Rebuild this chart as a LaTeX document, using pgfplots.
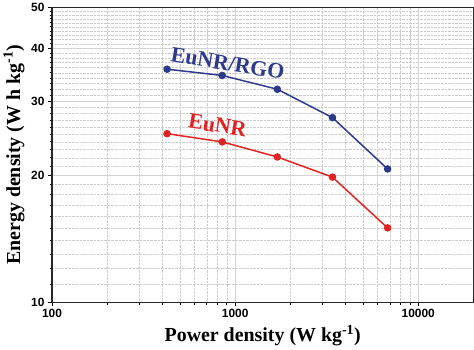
\documentclass[border=0pt]{standalone}
\usepackage{fontspec}
\setmainfont{Liberation Serif}
\newfontfamily\arialfont{Liberation Sans}
\usepackage{pgfplots}
\pgfplotsset{compat=1.18}
\definecolor{eublue}{RGB}{45,58,140}
\definecolor{eured}{RGB}{226,35,35}
\begin{document}
\begin{tikzpicture}
\begin{axis}[
  scale only axis, width=422bp, height=295bp,
  xmode=log, ymode=log,
  xmin=100, xmax=20000, ymin=10, ymax=50,
  xtick={100,1000,10000}, xticklabels={100,1000,10000},
  minor xtick={200,300,400,500,600,700,800,900,2000,3000,4000,5000,6000,7000,8000,9000},
  ytick={10,20,30,40,50}, yticklabels={10,20,30,40,50},
  minor ytick={11,12,13,14,15,16,17,18,19,21,22,23,24,25,26,27,28,29,31,32,33,34,35,36,37,38,39,41,42,43,44,45,46,47,48,49},
  grid=both,
  major grid style={gray!35, line width=0.8pt},
  minor grid style={gray!40, densely dotted, line width=0.5pt},
  tick align=outside, xtick pos=bottom, ytick pos=left,
  major tick length=4bp, minor tick length=2.5bp,
  tick style={black, line width=0.8pt},
  axis line style={black!85, line width=1.2pt},
  xlabel={Power density (W kg\textsuperscript{-1})},
  ylabel={Energy density (W h kg\textsuperscript{-1})},
  label style={font=\bfseries\fontsize{20}{24}\selectfont},
  ticklabel style={font=\arialfont\bfseries\fontsize{12}{14}\selectfont},
]
\addplot[eublue, line width=1.5pt, mark=*, mark size=3bp] coordinates {(425,35.7)(850,34.5)(1700,32.0)(3400,27.4)(6800,20.7)};
\addplot[eured, line width=1.5pt, mark=*, mark size=3bp] coordinates {(425,25.1)(850,24.0)(1700,22.1)(3400,19.8)(6800,15.0)};
\node[rotate=-9, text=eublue, font=\bfseries\fontsize{22}{26}\selectfont] at (rel axis cs:0.417,0.81) {EuNR/RGO};
\node[rotate=-9, text=eured, font=\bfseries\fontsize{22}{26}\selectfont] at (rel axis cs:0.393,0.60) {EuNR};
\end{axis}
\end{tikzpicture}
\end{document}
